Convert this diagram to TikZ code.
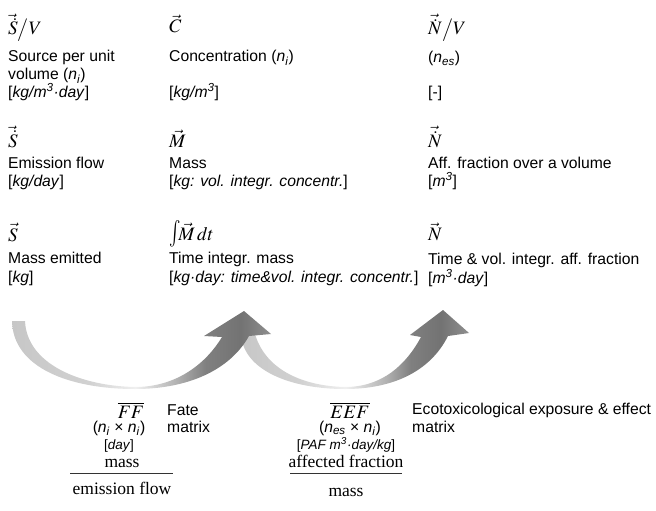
\documentclass[tikz,border=0pt]{standalone}
\usepackage{mathptmx}
\usepackage{graphicx}
\usepackage{fontspec}
\setmainfont{Liberation Sans}
\newfontfamily\serif{Liberation Serif}
\pgfdeclarehorizontalshading{arrowA}{100bp}{gray(0bp)=(0.78); gray(25bp)=(0.78); gray(40bp)=(0.82); gray(48.8bp)=(0.94); gray(56.6bp)=(0.70); gray(62.4bp)=(0.50); gray(69.2bp)=(0.45); gray(75bp)=(0.56); gray(100bp)=(0.56)}
\pgfdeclarehorizontalshading{arrowB}{100bp}{gray(0bp)=(0.78); gray(25bp)=(0.78); gray(38bp)=(0.82); gray(47.9bp)=(0.94); gray(56.7bp)=(0.70); gray(62.2bp)=(0.50); gray(68.8bp)=(0.45); gray(75bp)=(0.56); gray(100bp)=(0.56)}
\begin{document}
\begin{tikzpicture}[x=1pt,y=-1pt,
  lbl/.style={anchor=base west, inner sep=0pt, font=\fontsize{15.7}{18}\selectfont},
  sym/.style={anchor=base west, inner sep=0pt, font=\fontsize{19}{22}\selectfont},
  smalllbl/.style={anchor=base, inner sep=0pt, font=\fontsize{13.5}{16}\selectfont},
  ser/.style={anchor=base, inner sep=0pt, font=\fontsize{17.5}{20}\serif},
  fracbar/.style={line width=0.8pt, draw=black!80}]
\useasboundingbox (0,0) rectangle (656,511);

% arrows
\shade[shading=arrowB]
  (241,334) -- (255,334)
  .. controls (265,368) and (300,386) .. (345,387)
  .. controls (382,387) and (406,365) .. (421,337)
  -- (410,335) -- (443,310) -- (469,333) -- (448,336)
  .. controls (430,372) and (392,389) .. (345,389)
  .. controls (290,389) and (243,370) .. (241,334) -- cycle;
\shade[shading=arrowA]
  (12,321) -- (25,321)
  .. controls (27,365) and (82,386) .. (135,387)
  .. controls (178,387) and (207,362) .. (222,337)
  -- (204,336) -- (244,311) -- (271,334) -- (249,336)
  .. controls (230,370) and (188,389) .. (135,389)
  .. controls (70,389) and (13,368) .. (12,321) -- cycle;

% column 1
\node[sym] (s1) at (8,35) {$\vec{\dot{S}}\big/V$};
\node[lbl] (s1a) at (8,62) {Source per unit};
\node[lbl] (s1b) at (8,80) {volume (\textit{n}\textsubscript{\textit{i}})};
\node[lbl] (s1c) at (8,97) {[\textit{kg/m}\textsuperscript{\textit{3}}\textit{·day}]};
\node[sym] (s2) at (8,147) {$\vec{\dot{S}}$};
\node[lbl] (s2a) at (8,168) {Emission flow};
\node[lbl] (s2b) at (8,186) {[\textit{kg/day}]};
\node[sym] (s3) at (8,241) {$\vec{S}$};
\node[lbl] (s3a) at (8,263) {Mass emitted};
\node[lbl] (s3b) at (8,282) {[\textit{kg}]};

% column 2
\node[sym] (c1) at (169,33) {$\vec{C}$};
\node[lbl] (c1a) at (169,62) {Concentration (\textit{n}\textsubscript{\textit{i}})};
\node[lbl] (c1b) at (169,97) {[\textit{kg/m}\textsuperscript{\textit{3}}]};
\node[sym] (c2) at (169,147) {$\vec{M}$};
\node[lbl] (c2a) at (169,168) {Mass};
\node[lbl] (c2b) at (169,186) {[\textit{kg: vol. integr. concentr.}]};
\node[sym] (c3) at (169,240) {\scalebox{1}[1.4]{$\int$}$\!\vec{M}\,dt$};
\node[lbl] (c3a) at (169,263) {Time integr. mass};
\node[lbl] (c3b) at (169,282) {[\textit{kg·day: time\&vol. integr. concentr.}]};

% column 3
\node[sym] (n1) at (428,35) {$\vec{\dot{N}}\big/V$};
\node[lbl] (n1a) at (428,63) {(\textit{n}\textsubscript{\textit{es}})};
\node[lbl] (n1b) at (428,97) {[-]};
\node[sym] (n2) at (428,147) {$\vec{\dot{N}}$};
\node[lbl] (n2a) at (428,168) {Aff. fraction over a volume};
\node[lbl] (n2b) at (428,186) {[\textit{m}\textsuperscript{\textit{3}}]};
\node[sym] (n3) at (428,240) {$\vec{N}$};
\node[lbl] (n3a) at (428,264) {Time \& vol. integr. aff. fraction};
\node[lbl] (n3b) at (428,283) {[\textit{m}\textsuperscript{\textit{3}}\textit{·day}]};

% fate matrix
\node[sym, anchor=base] (ff) at (131,418) {$\overline{FF}$};
\node[lbl, anchor=base] (ffd) at (119,432) {(\textit{n}\textsubscript{\textit{i}} × \textit{n}\textsubscript{\textit{i}})};
\node[smalllbl] (ffu) at (119,449) {[\textit{day}]};
\node[ser] (ffn) at (122,467) {mass};
\node[ser] (ffden) at (122,494) {emission flow};
\coordinate (ffl) at (70,473);
\coordinate (ffr) at (173,473);
\draw[fracbar] (ffl) -- (ffr);
\node[lbl] (fate) at (167,415) {Fate};
\node[lbl] (fatem) at (167,432) {matrix};

% eco matrix
\node[sym, anchor=base] (eef) at (350,418) {$\overline{EEF}$};
\node[lbl, anchor=base] (eefd) at (350,432) {(\textit{n}\textsubscript{\textit{es}} × \textit{n}\textsubscript{\textit{i}})};
\node[smalllbl] (eefu) at (346,449) {[\textit{PAF m}\textsuperscript{\textit{3}}\textit{·day/kg}]};
\node[ser] (eefn) at (346,467) {affected fraction};
\node[ser] (eefden) at (346,496) {mass};
\coordinate (eel) at (290,473);
\coordinate (eer) at (402,473);
\draw[fracbar] (eel) -- (eer);
\node[lbl] (eco) at (412,414) {Ecotoxicological exposure \& effect};
\node[lbl] (ecom) at (412,432) {matrix};
\end{tikzpicture}
\end{document}
